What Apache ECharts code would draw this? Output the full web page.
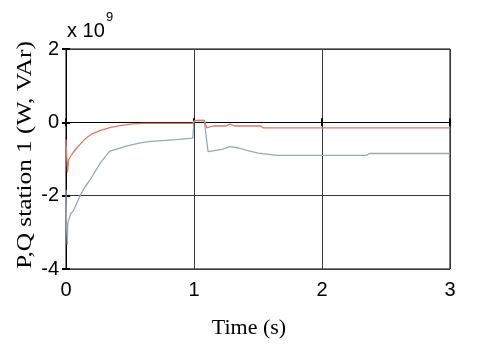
<!DOCTYPE html>
<html><head><meta charset="utf-8">
<script src="https://cdn.jsdelivr.net/npm/echarts@6/dist/echarts.min.js"></script>
<style>html,body{margin:0;padding:0;background:#fff}#c{width:480px;height:349px}</style>
</head><body><div id="c"></div>
<script>
// Time (s) and values (x 1e9)
const tP = [0, 0.005, 0.012, 0.02, 0.03, 0.05, 0.08, 0.11, 0.15, 0.2, 0.27, 0.35, 0.42, 0.52, 0.6, 0.8, 0.99, 1.0, 1.02, 1.08, 1.1, 1.15, 1.25, 1.28, 1.32, 1.52, 1.54, 2.0, 3.0];
const vP = [-0.47, -0.9, -1.37, -1.02, -1.0, -0.85, -0.72, -0.6, -0.45, -0.32, -0.22, -0.14, -0.09, -0.04, -0.03, -0.03, -0.03, 0.03, 0.05, 0.05, -0.15, -0.1, -0.1, -0.05, -0.1, -0.1, -0.15, -0.15, -0.15];
const tQ = [0, 0.004, 0.01, 0.014, 0.02, 0.035, 0.06, 0.11, 0.15, 0.19, 0.27, 0.34, 0.47, 0.58, 0.66, 0.86, 0.99, 1.0, 1.02, 1.08, 1.11, 1.16, 1.22, 1.28, 1.35, 1.42, 1.5, 1.65, 2.0, 2.35, 2.37, 3.0];
const vQ = [-1.84, -2.8, -3.34, -2.75, -2.7, -2.5, -2.4, -2.0, -1.75, -1.56, -1.1, -0.79, -0.65, -0.56, -0.52, -0.47, -0.43, 0.03, 0.05, 0.05, -0.8, -0.77, -0.74, -0.66, -0.7, -0.77, -0.84, -0.9, -0.9, -0.9, -0.85, -0.85];
const xTicks = [0, 1, 2, 3];
const yTicks = [-4, -2, 0, 2];

const pairs = (t, v) => t.map((x, i) => [x, v[i]]);
const chart = echarts.init(document.getElementById('c'));
const tickStyle = {show: true, inside: true, length: 4, lineStyle: {color: '#000', width: 2}};
chart.setOption({
  animation: false,
  grid: {left: 66, right: 30, top: 49, bottom: 80, show: true, borderColor: '#000', borderWidth: 1},
  xAxis: [{
    type: 'value', min: 0, max: 3, interval: 1,
    axisLine: {show: true, lineStyle: {color: '#000'}},
    axisTick: tickStyle,
    axisLabel: {color: '#000', fontSize: 20, fontFamily: 'Liberation Sans, Arial', margin: 11},
    splitLine: {show: true, lineStyle: {color: '#3a3a3a', width: 1}}
  }, {
    type: 'value', min: 0, max: 3, interval: 1, position: 'top',
    axisLine: {show: true, lineStyle: {color: '#000'}},
    axisTick: tickStyle, axisLabel: {show: false}, splitLine: {show: false}
  }],
  yAxis: [{
    type: 'value', min: -4, max: 2, interval: 2,
    axisLine: {show: true, lineStyle: {color: '#000'}},
    axisTick: tickStyle,
    axisLabel: {color: '#000', fontSize: 20, fontFamily: 'Liberation Sans, Arial', margin: 7},
    splitLine: {show: true, lineStyle: {color: '#3a3a3a', width: 1}}
  }, {
    type: 'value', min: -4, max: 2, interval: 2, position: 'right',
    axisLine: {show: true, lineStyle: {color: '#000'}},
    axisTick: tickStyle, axisLabel: {show: false}, splitLine: {show: false}
  }],
  series: [
    {type: 'line', data: pairs(tQ, vQ), showSymbol: false, lineStyle: {color: '#97aab6', width: 1.3}, itemStyle: {color: '#97aab6'}},
    {type: 'line', data: pairs(tP, vP), showSymbol: false, lineStyle: {color: '#e2785f', width: 1.3}, itemStyle: {color: '#e2785f'}}
  ],
  graphic: [
    {type: 'text', x: 67, y: 31, style: {text: 'x 10', font: '20px "Liberation Sans", Arial', fill: '#000', verticalAlign: 'middle'}},
    {type: 'text', x: 106, y: 17, style: {text: '9', font: '13px "Liberation Sans", Arial', fill: '#000', verticalAlign: 'middle'}},
    {type: 'text', x: 249, y: 328, style: {text: 'Time (s)', font: '22px "Liberation Serif", "Times New Roman", serif', fill: '#000', align: 'center', verticalAlign: 'middle'}},
    {type: 'text', x: 25, y: 155, rotation: Math.PI / 2, scaleX: 1.15, style: {text: 'P,Q station 1 (W, VAr)', font: '22px "Liberation Serif", "Times New Roman", serif', fill: '#000', align: 'center', verticalAlign: 'middle'}}
  ]
});
</script></body></html>
